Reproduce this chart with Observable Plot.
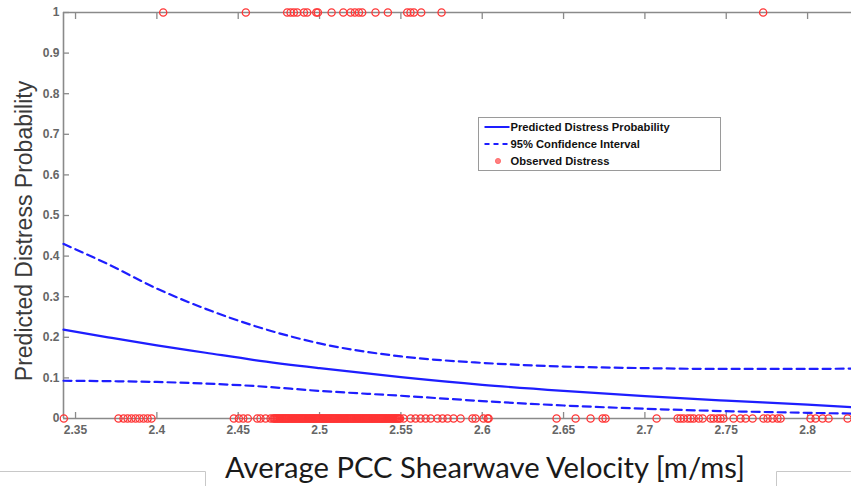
<!DOCTYPE html>
<html>
<head>
<meta charset="utf-8">
<script src="https://cdn.jsdelivr.net/npm/d3@7"></script>
<script src="https://cdn.jsdelivr.net/npm/@observablehq/plot@0.6"></script>
<style>
  body { margin: 0; background: #fff; }
  #wrap { position: relative; width: 851px; height: 486px; overflow: hidden; background: #fff;
          font-family: "Liberation Sans", Arial, sans-serif; }
  #wrap > svg.overlay { position: absolute; left: 0; top: 0; pointer-events: none; }
  #chart { position: absolute; left: 0; top: 0; }
</style>
</head>
<body>
<div id="wrap"><div id="chart"></div></div>
<script>
// Axis ticks and labels
const xTicks = [2.35, 2.4, 2.45, 2.5, 2.55, 2.6, 2.65, 2.7, 2.75, 2.8];
const xTickLabels = ["2.35", "2.4", "2.45", "2.5", "2.55", "2.6", "2.65", "2.7", "2.75", "2.8"];
const yTicks = [0, 0.1, 0.2, 0.3, 0.4, 0.5, 0.6, 0.7, 0.8, 0.9, 1];
const yTickLabels = ["0", "0.1", "0.2", "0.3", "0.4", "0.5", "0.6", "0.7", "0.8", "0.9", "1"];
const xDomain = [2.3426, 2.827];

// Fitted model: shearwave velocity (m/ms) and predicted distress probability with 95% bounds
const velocity  = [2.3426, 2.37, 2.40, 2.43, 2.46, 2.50, 2.55, 2.60, 2.65, 2.70, 2.75, 2.80, 2.827];
const predicted = [0.219, 0.200, 0.180, 0.162, 0.144, 0.124, 0.102, 0.083, 0.068, 0.055, 0.044, 0.034, 0.028];
const upperCI   = [0.430, 0.380, 0.320, 0.270, 0.228, 0.185, 0.153, 0.137, 0.128, 0.124, 0.122, 0.122, 0.123];
const lowerCI   = [0.093, 0.092, 0.090, 0.086, 0.080, 0.068, 0.056, 0.043, 0.032, 0.024, 0.018, 0.014, 0.012];

// Observed sections: velocity where distress was seen (1) and where it was not (0)
const distressed = [
  2.4039, 2.4547, 2.4801, 2.4822, 2.4842, 2.4863, 2.4904, 2.4924, 2.4980, 2.4990,
  2.5074, 2.5146, 2.5191, 2.5217, 2.5242, 2.5262, 2.5344, 2.5420, 2.5539, 2.5559,
  2.5580, 2.5625, 2.5750, 2.7727
];
const notDistressed = [
  2.3428, 2.3764, 2.3795, 2.3820, 2.3844, 2.3869, 2.3893, 2.3918, 2.3943, 2.3967,
  2.4473, 2.4504, 2.4531, 2.4559, 2.4617, 2.4637, 2.4668, 2.4699,
  2.4715, 2.4722, 2.4728, 2.4735, 2.4741, 2.4748, 2.4754, 2.4761, 2.4768, 2.4774,
  2.4781, 2.4787, 2.4794, 2.4800, 2.4807, 2.4813, 2.4820, 2.4827, 2.4833, 2.4840,
  2.4846, 2.4853, 2.4859, 2.4866, 2.4872, 2.4879, 2.4886, 2.4892, 2.4899, 2.4905,
  2.4912, 2.4918, 2.4925, 2.4932, 2.4938, 2.4945, 2.4951, 2.4958, 2.4964, 2.4971,
  2.4977, 2.4984, 2.4991, 2.4997, 2.5004, 2.5010, 2.5017, 2.5023, 2.5030, 2.5036,
  2.5043, 2.5050, 2.5056, 2.5063, 2.5069, 2.5076, 2.5082, 2.5089, 2.5095, 2.5102,
  2.5109, 2.5115, 2.5122, 2.5128, 2.5135, 2.5141, 2.5148, 2.5154, 2.5161, 2.5168,
  2.5174, 2.5181, 2.5187, 2.5194, 2.5200, 2.5207, 2.5213, 2.5220, 2.5227, 2.5233,
  2.5240, 2.5246, 2.5253, 2.5259, 2.5266, 2.5272, 2.5279, 2.5286, 2.5292, 2.5299,
  2.5305, 2.5312, 2.5318, 2.5325, 2.5331, 2.5338, 2.5345, 2.5351, 2.5358, 2.5364,
  2.5371, 2.5377, 2.5384, 2.5390, 2.5397, 2.5404, 2.5410, 2.5417, 2.5423, 2.5430,
  2.5436, 2.5443, 2.5449, 2.5456, 2.5463, 2.5469, 2.5476, 2.5482, 2.5489, 2.5495,
  2.5517, 2.5560, 2.5590, 2.5621, 2.5652, 2.5683,
  2.5725, 2.5756, 2.5787, 2.5824, 2.5867, 2.5940, 2.5959, 2.6008, 2.6033, 2.6039,
  2.6457, 2.6574, 2.6666, 2.6740, 2.6758, 2.7072,
  2.7201, 2.7219, 2.7238, 2.7263, 2.7281, 2.7300, 2.7331, 2.7355, 2.7404, 2.7422,
  2.7447, 2.7465, 2.7483, 2.7545, 2.7588, 2.7619, 2.7662,
  2.7729, 2.7754, 2.7785, 2.7815, 2.7834, 2.8018, 2.8049, 2.8092, 2.8129, 2.8246
];

const curve = velocity.map((v, i) => ({v, p: predicted[i], hi: upperCI[i], lo: lowerCI[i]}));
const observed = [
  ...notDistressed.map(v => ({v, y: 0})),
  ...distressed.map(v => ({v, y: 1}))
];

const axisGray = "#8a8a8a";
const blue = "#1e1eff";
const red = "#ff3535";

const chart = Plot.plot({
  width: 851,
  height: 440,
  marginLeft: 63,
  marginRight: 0,
  marginTop: 12,
  marginBottom: 22,
  x: {domain: xDomain},
  y: {domain: [0, 1]},
  style: {
    background: "transparent",
    overflow: "visible",
    fontFamily: "'Liberation Sans', Arial, sans-serif",
    fontSize: "12px",
    fontWeight: "bold",
    color: "#666"
  },
  marks: [
    // box edges: bottom, top and left
    Plot.ruleY([0, 1], {stroke: axisGray, strokeWidth: 1.6}),
    Plot.ruleX([xDomain[0]], {stroke: axisGray, strokeWidth: 1.6}),
    // inward tick marks
    Plot.axisX({anchor: "bottom", ticks: xTicks, tickSize: -6, tickFormat: () => "", label: null, stroke: axisGray, strokeWidth: 1.3}),
    Plot.axisX({anchor: "top", ticks: xTicks, tickSize: -6, tickFormat: () => "", label: null, stroke: axisGray, strokeWidth: 1.3}),
    Plot.axisY({anchor: "left", ticks: yTicks, tickSize: -6, tickFormat: () => "", label: null, stroke: axisGray, strokeWidth: 1.3}),
    // tick labels
    Plot.axisX({anchor: "bottom", ticks: xTicks, tickSize: 0, tickPadding: 7,
      tickFormat: d => xTickLabels[xTicks.indexOf(d)], label: null, fill: "#666"}),
    Plot.axisY({anchor: "left", ticks: yTicks, tickSize: 0, tickPadding: 4,
      tickFormat: d => yTickLabels[yTicks.indexOf(d)], label: null, fill: "#666"}),
    // confidence bounds and fitted probability
    Plot.line(curve, {x: "v", y: "hi", stroke: blue, strokeWidth: 2.2, strokeDasharray: "8,5", curve: "monotone-x"}),
    Plot.line(curve, {x: "v", y: "lo", stroke: blue, strokeWidth: 2.2, strokeDasharray: "8,5", curve: "monotone-x"}),
    Plot.line(curve, {x: "v", y: "p", stroke: blue, strokeWidth: 2.2, curve: "monotone-x"}),
    // observed outcomes
    Plot.dot(observed, {x: "v", y: "y", r: 3.6, stroke: red, strokeWidth: 1.3, fill: "none"})
  ]
});
document.getElementById("chart").appendChild(chart);

// Titles, legend and frame pieces drawn on top
const ns = "http://www.w3.org/2000/svg";
const overlay = d3.select("#wrap").append("svg")
  .attr("class", "overlay")
  .attr("xmlns", ns)
  .attr("width", 851).attr("height", 486);

overlay.append("text")
  .attr("transform", "translate(32,231) rotate(-90)")
  .attr("text-anchor", "middle")
  .attr("font-family", "'Liberation Sans', Arial, sans-serif")
  .attr("font-size", 23)
  .attr("fill", "#3a3a3a")
  .text("Predicted Distress Probability");

overlay.append("text")
  .attr("x", 485).attr("y", 478)
  .attr("text-anchor", "middle")
  .attr("font-family", "Lato, 'Open Sans', sans-serif")
  .attr("font-size", 29)
  .attr("fill", "#1a1a1a")
  .attr("textLength", 520)
  .attr("lengthAdjust", "spacingAndGlyphs")
  .text("Average PCC Shearwave Velocity [m/ms]");

// text box borders at the foot of the figure
const foot = overlay.append("g").attr("stroke", "#c8c8c8").attr("stroke-width", 1).attr("fill", "none");
foot.append("path").attr("d", "M0,471.5H205.5V486");
foot.append("path").attr("d", "M776.5,486V471.5H851");

// legend
const legend = overlay.append("g").attr("transform", "translate(478.5,117.5)");
legend.append("rect").attr("width", 242).attr("height", 53)
  .attr("fill", "#fff").attr("stroke", "#9a9a9a").attr("stroke-width", 1);
const entries = ["Predicted Distress Probability", "95% Confidence Interval", "Observed Distress"];
entries.forEach((label, i) => {
  const y = 9.5 + i * 17;
  if (i === 0) legend.append("line").attr("x1", 6).attr("x2", 31).attr("y1", y).attr("y2", y)
    .attr("stroke", blue).attr("stroke-width", 2);
  if (i === 1) legend.append("line").attr("x1", 6).attr("x2", 31).attr("y1", y).attr("y2", y)
    .attr("stroke", blue).attr("stroke-width", 2).attr("stroke-dasharray", "5,4");
  if (i === 2) legend.append("circle").attr("cx", 19.5).attr("cy", y).attr("r", 2.6)
    .attr("fill", "#ff8080").attr("stroke", "#ff6060").attr("stroke-width", 0.8);
  legend.append("text").attr("x", 32).attr("y", y).attr("dy", "0.35em")
    .attr("font-family", "'Liberation Sans', Arial, sans-serif")
    .attr("font-size", 11.2).attr("font-weight", "bold").attr("fill", "#111")
    .text(label);
});
</script>
</body>
</html>
